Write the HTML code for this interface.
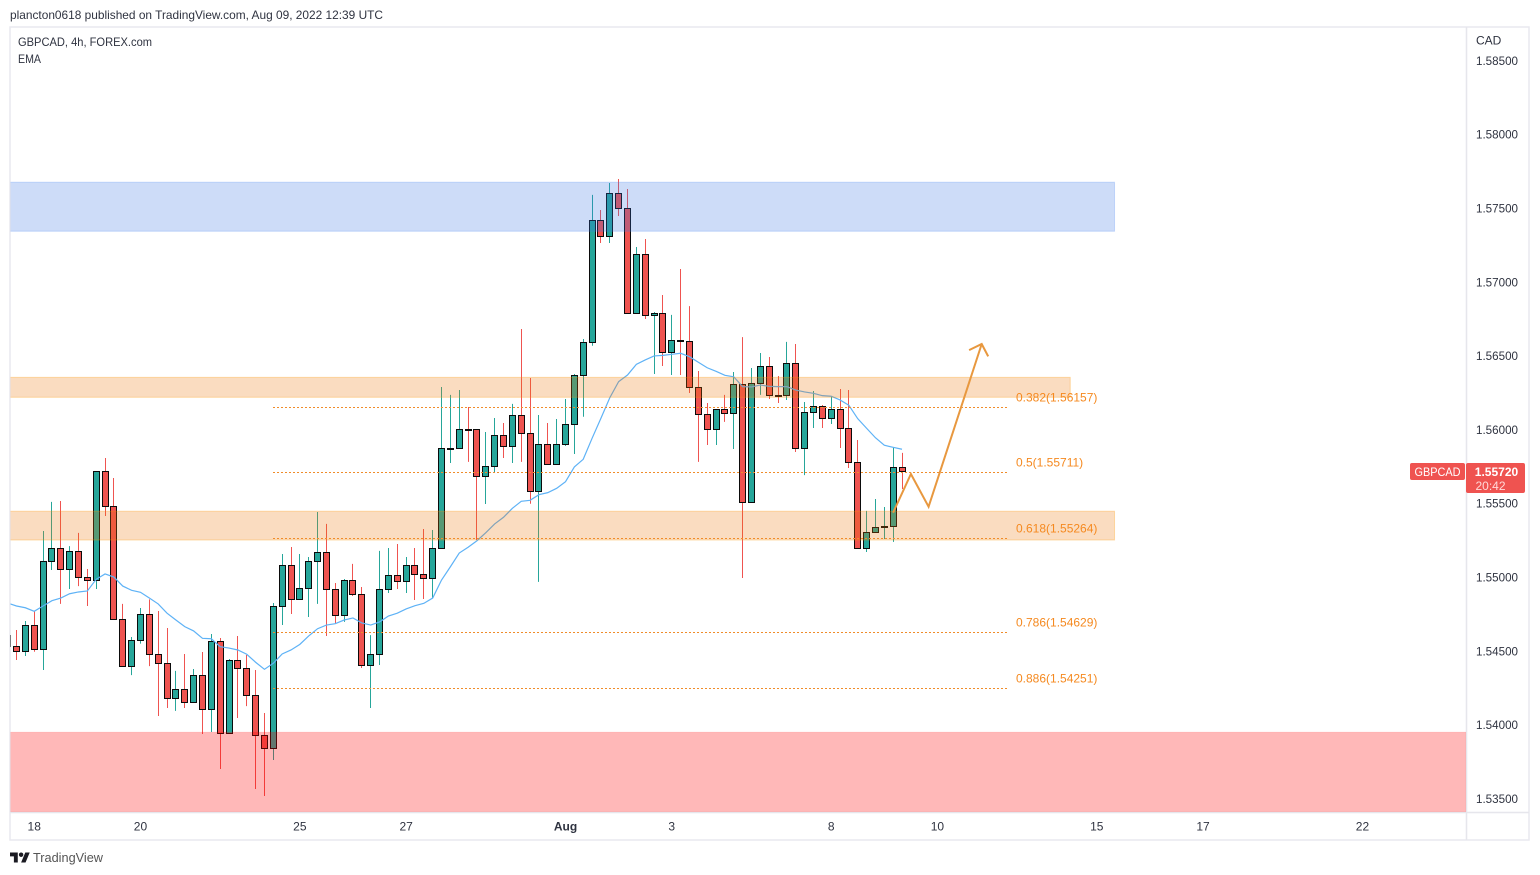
<!DOCTYPE html>
<html lang="en">
<head>
<meta charset="utf-8">
<title>GBPCAD 4h chart</title>
<style>
html,body{margin:0;padding:0;background:#fff;width:1540px;height:875px;overflow:hidden}
svg{display:block;font-family:"Liberation Sans",Arial,sans-serif}
text{font-size:12px;fill:#2f3340}
</style>
</head>
<body>
<svg id="chart" xmlns="http://www.w3.org/2000/svg" width="1540" height="875" viewBox="0 0 1540 875">
  <defs>
    <clipPath id="pane-clip"><rect x="10.5" y="27.5" width="1455.5" height="784.5"/></clipPath>
  </defs>
  <rect width="1540" height="875" fill="#fff"/>
  <text x="10" y="19" textLength="373" lengthAdjust="spacingAndGlyphs" fill="#444">plancton0618 published on TradingView.com, Aug 09, 2022 12:39 UTC</text>
  <g fill="none" stroke="#e9e9ef" stroke-width="1.5">
    <rect x="10" y="27" width="1519" height="813"/>
  </g>
  <line x1="10" x2="1529" y1="812.5" y2="812.5" stroke="#e6e6ec" stroke-width="1.5"/>
  <line x1="1466.5" x2="1466.5" y1="27" y2="840" stroke="#e6e6ec" stroke-width="1.5"/>
  <g id="pane" clip-path="url(#pane-clip)">
    <g id="candles"></g>
    <path id="ema" fill="none" stroke="#5eb2f6" stroke-width="1.2"/>
    <g id="zones"></g>
    <g id="fibs"></g>
    <g id="arrow"></g>
  </g>
  <g id="price-axis">
    <text x="1476" y="44.5">CAD</text>
  </g>
  <g id="time-axis"></g>
  <text x="18" y="46" textLength="134" lengthAdjust="spacingAndGlyphs">GBPCAD, 4h, FOREX.com</text>
  <text x="18" y="63" textLength="23" lengthAdjust="spacingAndGlyphs">EMA</text>
  <g>
    <rect x="1410" y="463" width="55" height="17" rx="2" fill="#ef5350"/>
    <text x="1437.5" y="476" text-anchor="middle" textLength="46" lengthAdjust="spacingAndGlyphs" style="fill:#fff">GBPCAD</text>
  </g>
  <g>
    <rect x="1466" y="463" width="59" height="30" rx="2" fill="#ef5350"/>
    <text id="last-price" x="1496.5" y="476" text-anchor="middle" font-weight="bold" style="fill:#fff">1.55720</text>
    <text x="1490.5" y="490" text-anchor="middle" style="fill:#ffd9d8">20:42</text>
  </g>
  <g>
    <svg x="10" y="851" width="20" height="13" viewBox="0 2 36 22">
      <path d="M14 22H7V11H0V4h14v18zM28 22h-8l7.5-18h8L28 22z" fill="#1a1a22"/>
      <circle cx="20" cy="8" r="4" fill="#1a1a22"/>
    </svg>
    <text x="33" y="862" textLength="70" lengthAdjust="spacingAndGlyphs" style="font-size:13px;fill:#555">TradingView</text>
  </g>
</svg>
<script>
const opens=[1.54612,1.54533,1.54502,1.54678,1.54516,1.55112,1.55200,1.55058,1.55180,1.55003,1.54983,1.55722,1.55484,1.54719,1.54400,1.54577,1.54753,1.54482,1.54421,1.54184,1.54245,1.54157,1.54339,1.54109,1.54570,1.53947,1.54441,1.54387,1.54204,1.53933,1.53845,1.54807,1.55085,1.54854,1.54929,1.55112,1.55173,1.54922,1.54746,1.54983,1.54888,1.54407,1.54482,1.54922,1.55017,1.54976,1.55085,1.55024,1.54997,1.55200,1.55875,1.55877,1.56006,1.56006,1.55688,1.55755,1.55965,1.55891,1.56101,1.55979,1.55586,1.55904,1.55769,1.55904,1.56040,1.56372,1.56596,1.57422,1.57314,1.57605,1.57503,1.56792,1.57192,1.56778,1.56792,1.56528,1.56609,1.56604,1.56291,1.56108,1.56006,1.56142,1.56114,1.56311,1.55512,1.56318,1.56433,1.56238,1.56236,1.56453,1.55877,1.56121,1.56162,1.56081,1.56142,1.56013,1.55783,1.55200,1.55308,1.55342,1.55346,1.55749];
const highs=[1.54612,1.54646,1.54707,1.54773,1.55317,1.55514,1.55520,1.55215,1.55304,1.55060,1.55722,1.55812,1.55676,1.54823,1.54599,1.54795,1.54854,1.54775,1.54660,1.54369,1.54484,1.54382,1.54497,1.54619,1.54592,1.54450,1.54606,1.54477,1.54375,1.54084,1.54829,1.55161,1.55209,1.55161,1.55141,1.55446,1.55365,1.54965,1.54992,1.55094,1.54938,1.54612,1.55182,1.55202,1.55229,1.55141,1.55202,1.55331,1.55324,1.56293,1.56239,1.56272,1.56157,1.56006,1.55988,1.56083,1.56049,1.56178,1.56686,1.56354,1.56103,1.56049,1.56076,1.56211,1.56381,1.56618,1.57594,1.57492,1.57675,1.57702,1.57634,1.57241,1.57295,1.56801,1.56916,1.56781,1.57092,1.56841,1.56401,1.56184,1.56144,1.56239,1.56394,1.56631,1.56421,1.56523,1.56496,1.56367,1.56598,1.56584,1.56191,1.56266,1.56171,1.56232,1.56279,1.56272,1.55934,1.55453,1.55534,1.55480,1.55886,1.55846];
const lows=[1.54531,1.54443,1.54470,1.54499,1.54375,1.55053,1.54823,1.54924,1.54944,1.54809,1.54924,1.55419,1.54719,1.54400,1.54341,1.54554,1.54402,1.54064,1.54118,1.54098,1.54118,1.54157,1.53942,1.53955,1.53705,1.53947,1.54050,1.54131,1.53569,1.53522,1.53766,1.54680,1.54755,1.54854,1.54734,1.54823,1.54606,1.54687,1.54701,1.54877,1.54389,1.54118,1.54409,1.54897,1.54924,1.54897,1.54850,1.54856,1.54863,1.55200,1.55778,1.55877,1.55785,1.55256,1.55500,1.55710,1.55812,1.55778,1.55785,1.55502,1.54972,1.55769,1.55769,1.55893,1.55839,1.56091,1.56572,1.57268,1.57268,1.57451,1.56792,1.56792,1.56753,1.56381,1.56435,1.56374,1.56374,1.56252,1.55785,1.55900,1.55900,1.56056,1.55873,1.54999,1.55512,1.56239,1.56211,1.56184,1.56205,1.55852,1.55696,1.56015,1.56015,1.56042,1.55879,1.55744,1.55200,1.55175,1.55304,1.55263,1.55243,1.55602];
const closes=[1.54533,1.54502,1.54678,1.54516,1.55112,1.55200,1.55058,1.55180,1.55003,1.54983,1.55722,1.55484,1.54719,1.54400,1.54577,1.54753,1.54482,1.54421,1.54184,1.54245,1.54157,1.54339,1.54109,1.54570,1.53947,1.54441,1.54387,1.54204,1.53933,1.53845,1.54807,1.55085,1.54854,1.54929,1.55112,1.55173,1.54922,1.54746,1.54983,1.54888,1.54407,1.54482,1.54922,1.55017,1.54976,1.55085,1.55024,1.54997,1.55200,1.55877,1.55877,1.56006,1.56004,1.55688,1.55755,1.55965,1.55891,1.56101,1.55979,1.55586,1.55904,1.55769,1.55904,1.56040,1.56372,1.56596,1.57422,1.57314,1.57605,1.57503,1.56792,1.57192,1.56778,1.56792,1.56528,1.56609,1.56604,1.56291,1.56108,1.56006,1.56142,1.56114,1.56311,1.55512,1.56318,1.56433,1.56236,1.56236,1.56453,1.55877,1.56121,1.56162,1.56081,1.56142,1.56013,1.55783,1.55200,1.55308,1.55342,1.55346,1.55749,1.55720];
const emaValues=[1.54829,1.54809,1.54797,1.54773,1.54809,1.54845,1.54863,1.54892,1.54904,1.54911,1.54990,1.55026,1.55005,1.54944,1.54915,1.54902,1.54863,1.54823,1.54760,1.54714,1.54669,1.54640,1.54590,1.54587,1.54533,1.54524,1.54511,1.54482,1.54428,1.54380,1.54421,1.54484,1.54511,1.54549,1.54606,1.54655,1.54680,1.54689,1.54714,1.54728,1.54694,1.54680,1.54701,1.54741,1.54760,1.54789,1.54811,1.54827,1.54863,1.54985,1.55075,1.55168,1.55207,1.55251,1.55306,1.55365,1.55410,1.55471,1.55518,1.55525,1.55563,1.55577,1.55606,1.55651,1.55751,1.55803,1.55945,1.56081,1.56220,1.56329,1.56374,1.56446,1.56476,1.56503,1.56507,1.56514,1.56521,1.56498,1.56460,1.56423,1.56399,1.56372,1.56362,1.56295,1.56293,1.56306,1.56297,1.56295,1.56295,1.56272,1.56259,1.56250,1.56234,1.56230,1.56205,1.56169,1.56078,1.56013,1.55949,1.55898,1.55884,1.55871];
const priceTicks=[1.585,1.58,1.575,1.57,1.565,1.56,1.555,1.55,1.545,1.54,1.535];
const timeTickLabels=['18','20','25','27','Aug','3','8','10','15','17','22'];
const timeTickBars=[2,14,32,44,62,74,92,104,122,134,152];
const fibRatios=['0.382','0.5','0.618','0.786','0.886'];
const fibPrices=[1.56157,1.55711,1.55264,1.54629,1.54251];
const zoneNames=['blue-supply-zone','orange-upper-zone','orange-lower-zone','red-demand-zone'];
const zoneTops=[1.57680,1.56358,1.55451,1.53955];
const zoneBottoms=[1.57348,1.56223,1.55256,1.53410];
const zoneEndBars=[124,119,124,164];
const arrowBars=[99,101,103,109];
const arrowPrices=[1.55441,1.55703,1.55482,1.56584];

const NS='http://www.w3.org/2000/svg';
const firstBar=-1;
function xAt(bar){return 16.5+8.855*bar;}
function yAt(price){return 504+(1.555-price)*14760;}
function snap(v){return Math.floor(v)+0.5;}
function mk(tag,parent,attrs){
  const el=document.createElementNS(NS,tag);
  for(const k in attrs){el.setAttribute(k,attrs[k]);}
  parent.appendChild(el);
  return el;
}

const candlesG=document.getElementById('candles');
opens.forEach(function(o,n){
  const c=closes[n];
  const bar=n+firstBar;
  const up=c>=o;
  const color=up?'#26a69a':'#ef5350';
  const cx=snap(xAt(bar));
  const g=mk('g',candlesG,{});
  
  
  const wick=mk('line',g,{x1:cx,x2:cx,y1:yAt(highs[n]),y2:yAt(lows[n]),stroke:color,'stroke-width':1});
  
  
  const top=snap(yAt(Math.max(o,c)));
  const bot=snap(yAt(Math.min(o,c)));
  const body=mk('rect',g,{x:cx-3,y:top,width:6,height:Math.max(bot-top,1),fill:color,stroke:'#0b0b0b','stroke-width':1,'shape-rendering':'crispEdges'});
  
  
});

document.getElementById('ema').setAttribute('d',emaValues.map(function(v,n){
  return (n?'L':'M')+xAt(n+firstBar).toFixed(2)+' '+yAt(v).toFixed(2);
}).join(' '));

const zonesG=document.getElementById('zones');
const zoneFill=['rgba(55,115,227,0.25)','rgba(235,115,3,0.25)','rgba(235,115,3,0.25)','rgba(255,0,0,0.278)'];
const zoneStroke=['rgba(66,133,244,0.25)','rgba(255,152,0,0.3)','rgba(255,152,0,0.3)','rgba(255,0,0,0.06)'];
zoneNames.forEach(function(name,n){
  const y=yAt(zoneTops[n]);
  const r=mk('rect',zonesG,{x:10,y:y,width:xAt(zoneEndBars[n])-10,height:yAt(zoneBottoms[n])-y,fill:zoneFill[n],stroke:zoneStroke[n],'stroke-width':1});
  
  
});

const fibG=document.getElementById('fibs');
fibPrices.forEach(function(p,n){
  const y=snap(yAt(p));
  const line=mk('line',fibG,{x1:273,x2:1007,y1:y,y2:y,stroke:'#f08c2a','stroke-width':1,'stroke-dasharray':'2 2'});
  
  
  const t=mk('text',fibG,{x:1016,y:y-6,style:'fill:#f5891f'});
  
  
  t.textContent=fibRatios[n]+'('+p.toFixed(5)+')';
});

const arrowG=document.getElementById('arrow');
const pts=arrowBars.map(function(b,n){return [xAt(b),yAt(arrowPrices[n])];});
const last=pts[pts.length-1],prev=pts[pts.length-2];
const back=Math.atan2(prev[1]-last[1],prev[0]-last[0]);
const spread=46*Math.PI/180;
const headLen=14;
const head=[-1,1].map(function(s){
  return [last[0]+headLen*Math.cos(back+s*spread),last[1]+headLen*Math.sin(back+s*spread)];
});
const shaft=mk('polyline',arrowG,{points:pts.map(function(p){return p[0].toFixed(1)+','+p[1].toFixed(1);}).join(' '),fill:'none',stroke:'#e8983f','stroke-width':2});


const headLine=mk('polyline',arrowG,{points:[head[0],last,head[1]].map(function(p){return p[0].toFixed(1)+','+p[1].toFixed(1);}).join(' '),fill:'none',stroke:'#e8983f','stroke-width':2});



const priceAxis=document.getElementById('price-axis');
priceTicks.forEach(function(p){
  const t=mk('text',priceAxis,{x:1476,y:yAt(p)+3.7,textLength:42,lengthAdjust:'spacingAndGlyphs'});
  
  
  t.textContent=p.toFixed(5);
});

const timeAxis=document.getElementById('time-axis');
timeTickLabels.forEach(function(label,n){
  const t=mk('text',timeAxis,{x:xAt(timeTickBars[n]),y:830.5,'text-anchor':'middle'});
  
  
  if(label==='Aug'){t.setAttribute('font-weight','bold');}
  t.textContent=label;
});

document.getElementById('last-price').textContent=closes[closes.length-1].toFixed(5);
</script>
</body>
</html>
